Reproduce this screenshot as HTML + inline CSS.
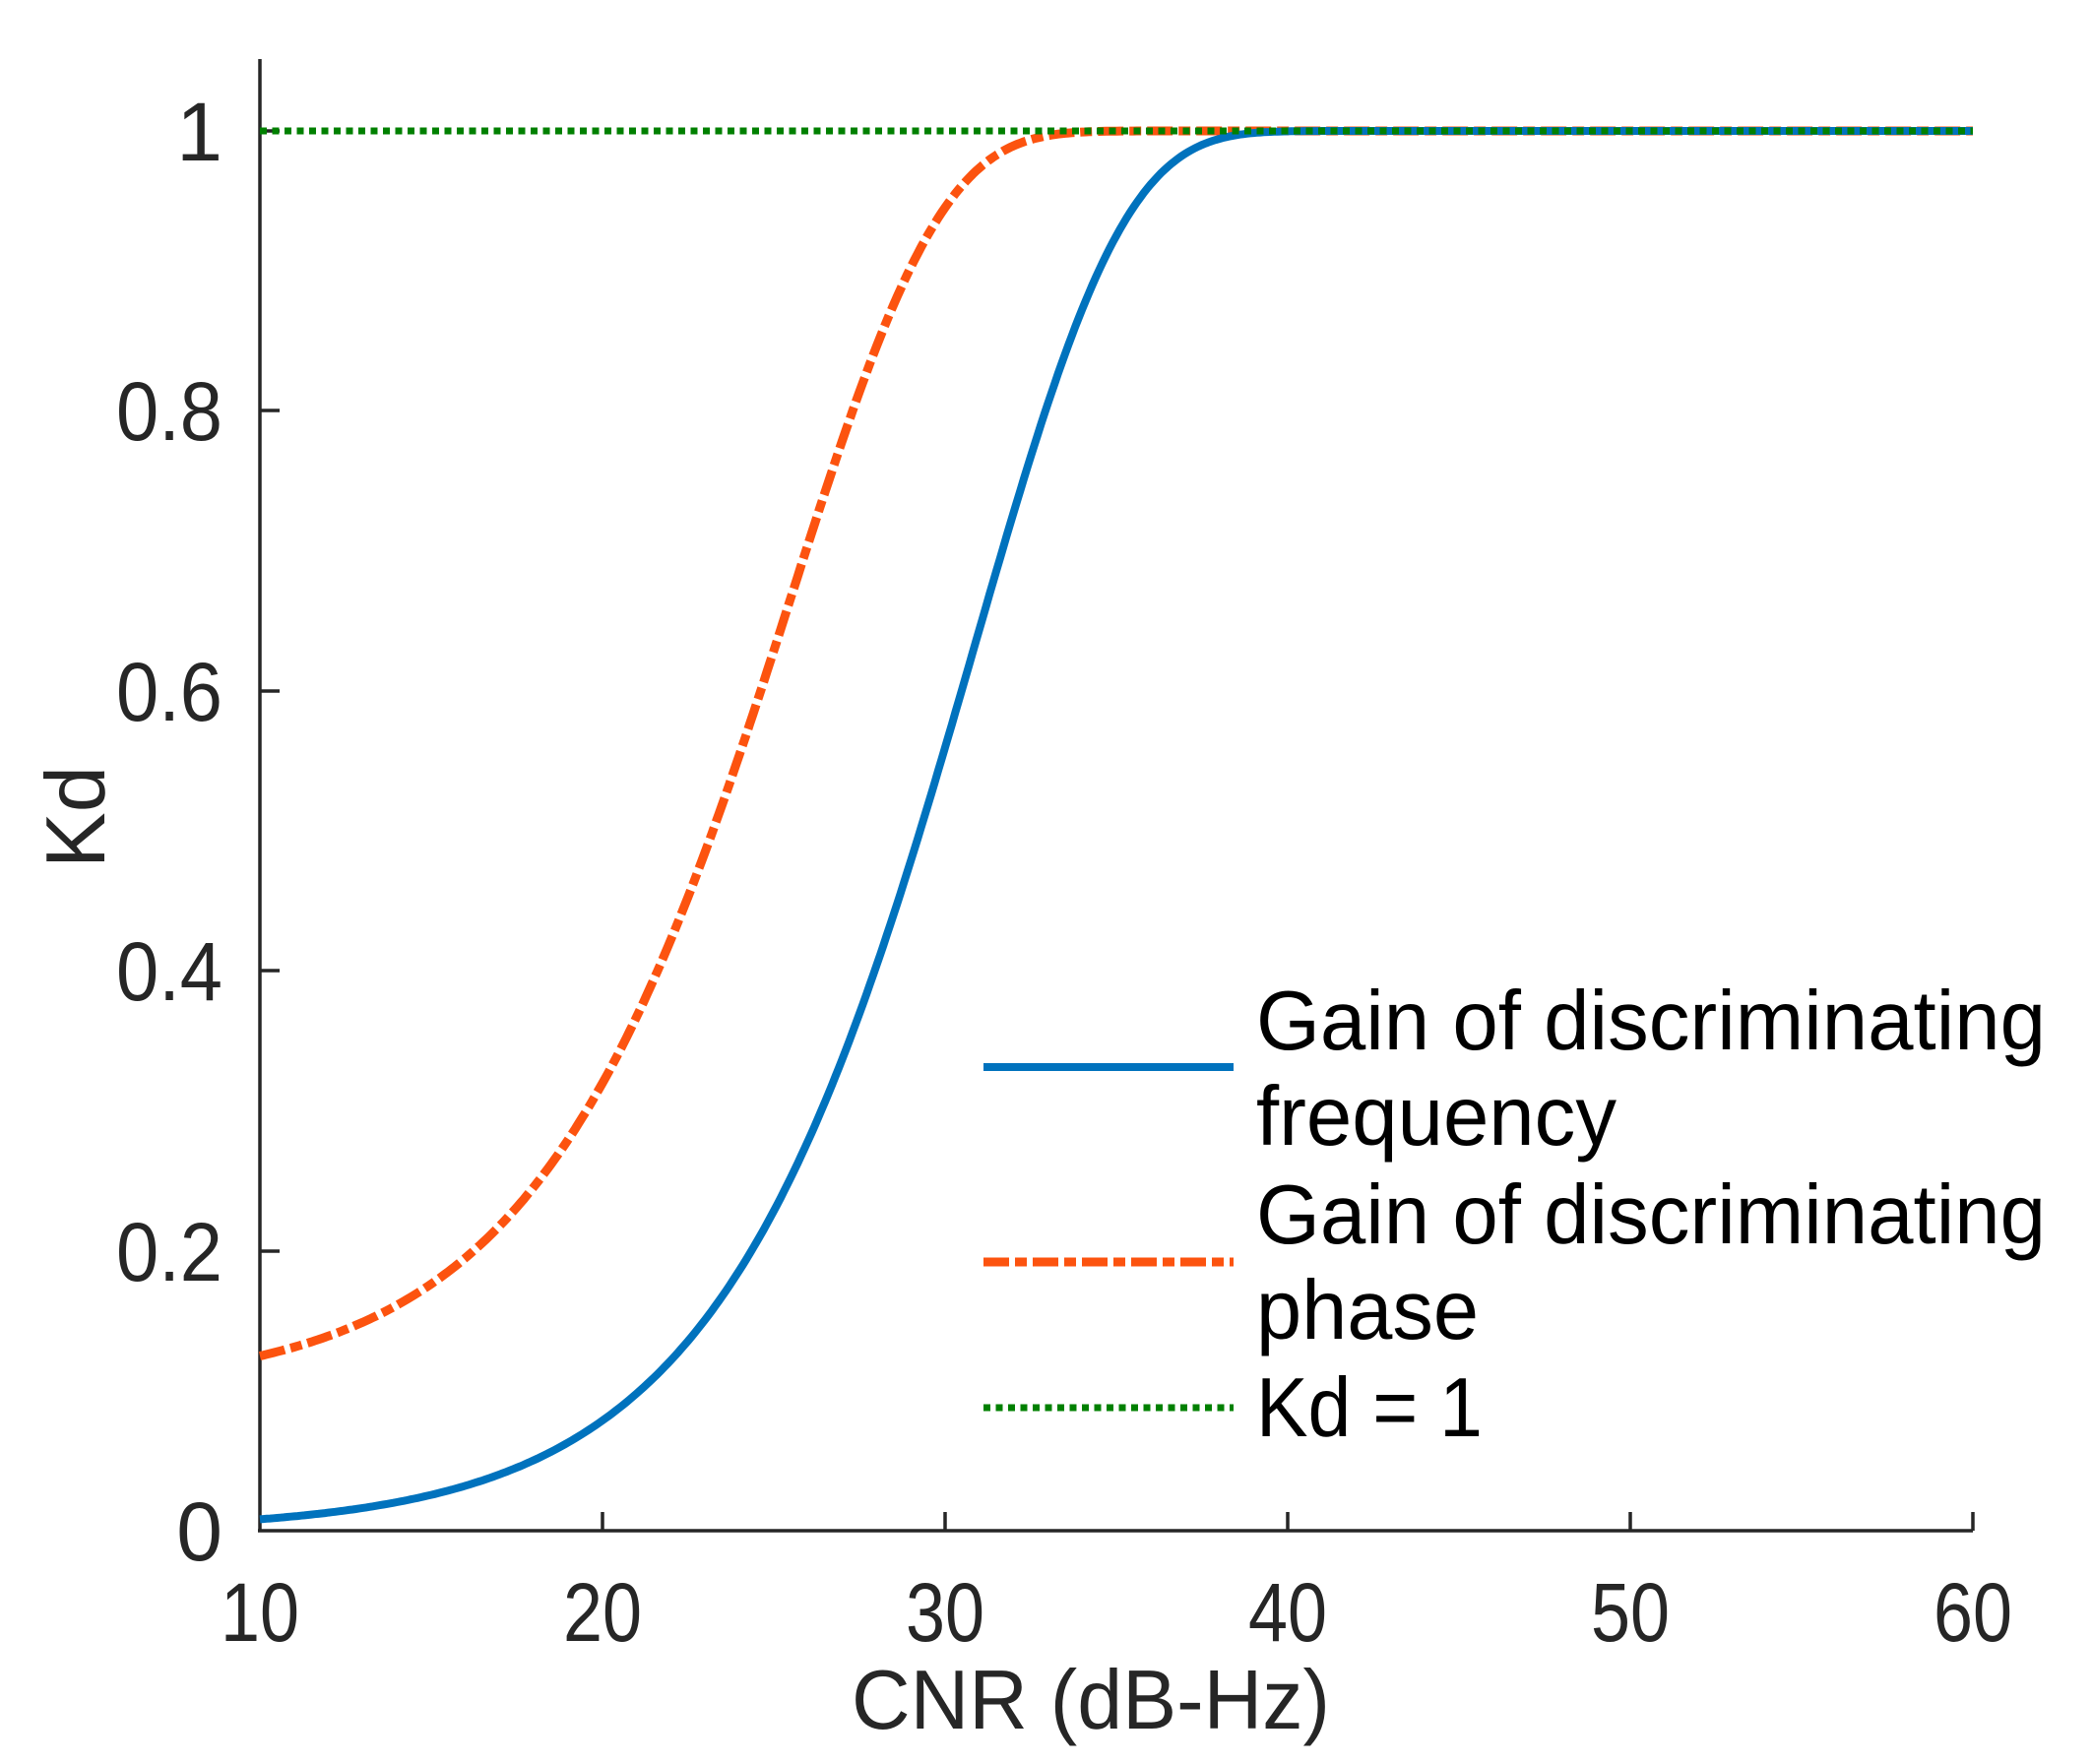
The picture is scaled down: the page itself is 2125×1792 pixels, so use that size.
<!DOCTYPE html>
<html><head><meta charset="utf-8"><style>html,body{margin:0;padding:0;background:#fff}svg{display:block}</style></head>
<body>
<svg id="s" width="2125" height="1792" viewBox="0 0 2125 1792" xmlns="http://www.w3.org/2000/svg" font-family="Liberation Sans, sans-serif" fill="#262626">
<g stroke="#262626" stroke-width="3.5" fill="none">
<line x1="264" y1="60" x2="264" y2="1556"/>
<line x1="262" y1="1555" x2="2004" y2="1555"/>
<line x1="612" y1="1555" x2="612" y2="1536"/>
<line x1="960" y1="1555" x2="960" y2="1536"/>
<line x1="1308" y1="1555" x2="1308" y2="1536"/>
<line x1="1656" y1="1555" x2="1656" y2="1536"/>
<line x1="2004" y1="1555" x2="2004" y2="1536"/>
<line x1="264" y1="1271" x2="284" y2="1271"/>
<line x1="264" y1="986" x2="284" y2="986"/>
<line x1="264" y1="702" x2="284" y2="702"/>
<line x1="264" y1="417" x2="284" y2="417"/>
<line x1="264" y1="133" x2="284" y2="133"/>
</g>
<g font-size="84" text-anchor="middle">
<text x="264" y="1667" textLength="80" lengthAdjust="spacingAndGlyphs">10</text>
<text x="612" y="1667" textLength="80" lengthAdjust="spacingAndGlyphs">20</text>
<text x="960" y="1667" textLength="80" lengthAdjust="spacingAndGlyphs">30</text>
<text x="1308" y="1667" textLength="80" lengthAdjust="spacingAndGlyphs">40</text>
<text x="1656" y="1667" textLength="80" lengthAdjust="spacingAndGlyphs">50</text>
<text x="2004" y="1667" textLength="80" lengthAdjust="spacingAndGlyphs">60</text>
</g>
<g font-size="84" text-anchor="end">
<text x="226" y="1585">0</text>
<text x="226" y="1301" textLength="108" lengthAdjust="spacingAndGlyphs">0.2</text>
<text x="226" y="1016" textLength="108" lengthAdjust="spacingAndGlyphs">0.4</text>
<text x="226" y="732" textLength="108" lengthAdjust="spacingAndGlyphs">0.6</text>
<text x="226" y="447" textLength="108" lengthAdjust="spacingAndGlyphs">0.8</text>
<text x="226" y="163">1</text>
</g>
<text x="865" y="1756" font-size="85" textLength="486" lengthAdjust="spacingAndGlyphs">CNR (dB-Hz)</text>
<text transform="translate(106,830) rotate(-90)" font-size="85" text-anchor="middle">Kd</text>
<path id="orange" fill="none" stroke="#FC530F" stroke-width="9" stroke-dasharray="26 6 12 6"/>
<path id="blue" fill="none" stroke="#0072BD" stroke-width="8"/>
<line x1="264" y1="133" x2="2004" y2="133" stroke="#008000" stroke-width="7" stroke-dasharray="7 5.5"/>
<line x1="999" y1="1084" x2="1253" y2="1084" stroke="#0072BD" stroke-width="8"/>
<line x1="999" y1="1282" x2="1253" y2="1282" stroke="#FC530F" stroke-width="9" stroke-dasharray="26 6 12 6"/>
<line x1="999" y1="1430" x2="1253" y2="1430" stroke="#008000" stroke-width="7" stroke-dasharray="7 5.5"/>
<g font-size="85" fill="#000">
<text x="1276" y="1066" textLength="802" lengthAdjust="spacingAndGlyphs">Gain of discriminating</text>
<text x="1276" y="1163" textLength="366" lengthAdjust="spacingAndGlyphs">frequency</text>
<text x="1276" y="1263" textLength="802" lengthAdjust="spacingAndGlyphs">Gain of discriminating</text>
<text x="1276" y="1360" textLength="226" lengthAdjust="spacingAndGlyphs">phase</text>
<text x="1276" y="1459" textLength="230" lengthAdjust="spacingAndGlyphs">Kd = 1</text>
</g>
</svg>
<script>
function X(v){return 264+(v-10)*34.8;}
function Y(v){return 1555-v*1422;}
var b="",o="";
for(var i=0;i<=500;i++){var x=10+i*0.1,c=Math.pow(10,x/10);
var kb=1-Math.exp(-0.00082*c);
var ko=1-0.9*Math.exp(-0.0028*c);
b+=(i?"L":"M")+X(x).toFixed(1)+" "+Y(kb).toFixed(1);
o+=(i?"L":"M")+X(x).toFixed(1)+" "+Y(ko).toFixed(1);}
document.getElementById("blue").setAttribute("d",b);
document.getElementById("orange").setAttribute("d",o);
</script>
</body></html>
